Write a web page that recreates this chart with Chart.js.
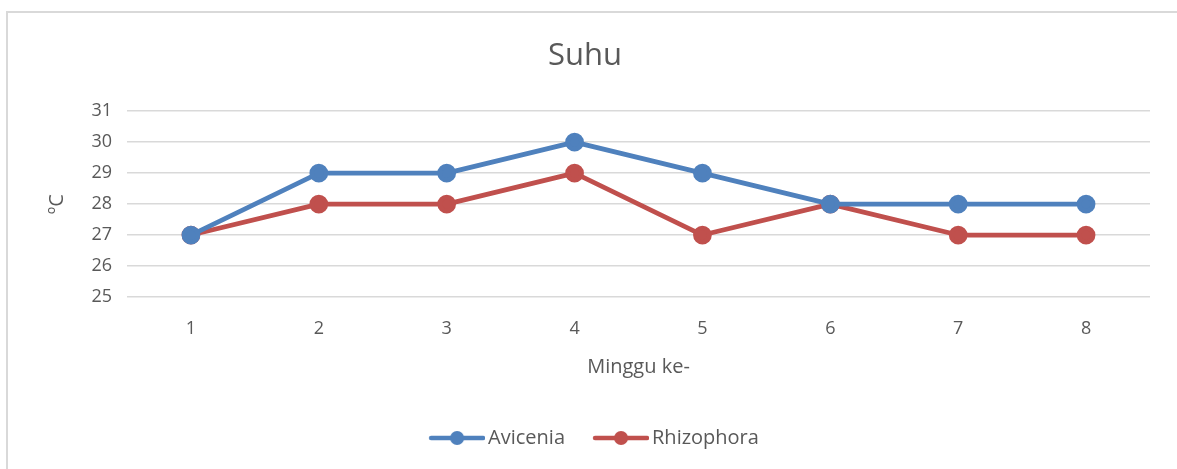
<!DOCTYPE html>
<html>
<head>
<meta charset="utf-8">
<script src="https://cdn.jsdelivr.net/npm/chart.js@4/dist/chart.umd.min.js"></script>
<style>
    html, body { margin: 0; padding: 0; background: #fff; overflow: hidden; }
    #wrap { position: absolute; left: 0; top: 0; width: 1177px; height: 469px; }
</style>
</head>
<body>
<div id="wrap"><canvas id="lineCanvas"></canvas></div>
<script>
// data
var weeks = ["1", "2", "3", "4", "5", "6", "7", "8"];
var avicenia = [27, 29, 29, 30, 29, 28, 28, 28];
var rhizophora = [27, 28, 28, 29, 27, 28, 27, 27];
var yTicks = [25, 26, 27, 28, 29, 30, 31];

var FONT = "'Open Sans', sans-serif";
var TXT = "#595959";

// legend marker: short line with a dot in the middle, pushed to the right edge
function legendMarker(color) {
    var c = document.createElement('canvas');
    c.width = 81;
    c.height = 18;
    var g = c.getContext('2d');
    g.strokeStyle = color;
    g.lineWidth = 4.5;
    g.lineCap = 'round';
    g.beginPath();
    g.moveTo(27, 9);
    g.lineTo(79, 9);
    g.stroke();
    g.fillStyle = color;
    g.beginPath();
    g.arc(53, 9, 7, 0, Math.PI * 2);
    g.fill();
    return c;
}

// outer chart frame (only top and left edges fall inside the picture)
var framePlugin = {
    id: 'frame',
    beforeDraw: function(chart) {
        var c = chart.ctx;
        c.save();
        c.strokeStyle = '#d9d9d9';
        c.lineWidth = 2;
        c.beginPath();
        c.moveTo(7, chart.height);
        c.lineTo(7, 12);
        c.lineTo(chart.width, 12);
        c.stroke();
        c.restore();
    }
};

document.addEventListener('DOMContentLoaded', function() {
    lineChart();
});

function lineChart() {
    var ctx = document.getElementById("lineCanvas").getContext("2d");

    var data = {
        labels: weeks,
        datasets: [
            {
                label: "Avicenia",
                data: avicenia,
                borderColor: "#4f81bd",
                backgroundColor: "#4f81bd",
                borderWidth: 4.75,
                pointRadius: 7,
                pointHoverRadius: 7,
                borderCapStyle: 'round',
                borderJoinStyle: 'round'
            },
            {
                label: "Rhizophora",
                data: rhizophora,
                borderColor: "#c0504d",
                backgroundColor: "#c0504d",
                borderWidth: 4.75,
                pointRadius: 7,
                pointHoverRadius: 7,
                borderCapStyle: 'round',
                borderJoinStyle: 'round'
            }
        ]
    };

    var options = {
        responsive: true,
        maintainAspectRatio: false,
        animation: false,
        layout: { padding: { left: 20, right: 27, top: 0, bottom: 11 } },
        plugins: {
            title: {
                display: true,
                text: "Suhu",
                color: TXT,
                font: { family: FONT, size: 31, weight: 'normal' },
                padding: { top: 38, bottom: 36 }
            },
            legend: {
                position: 'bottom',
                labels: {
                    color: TXT,
                    font: { family: FONT, size: 20 },
                    usePointStyle: true,
                    pointStyleWidth: 67,
                    padding: 10,
                    generateLabels: function(chart) {
                        return chart.data.datasets.map(function(ds, i) {
                            return {
                                text: ds.label,
                                fontColor: TXT,
                                pointStyle: legendMarker(ds.borderColor),
                                hidden: false,
                                datasetIndex: i,
                                lineWidth: 0
                            };
                        });
                    }
                }
            },
            tooltip: { enabled: false }
        },
        scales: {
            x: {
                offset: true,
                grid: { display: false, drawTicks: false },
                border: { display: false },
                ticks: {
                    color: TXT,
                    font: { family: FONT, size: 18 },
                    padding: 21
                },
                title: {
                    display: true,
                    text: "Minggu ke-",
                    color: TXT,
                    font: { family: FONT, size: 20 },
                    padding: { top: 0, bottom: 39 }
                },
                afterFit: function(scale) { scale.height = 121; }
            },
            y: {
                min: yTicks[0],
                max: yTicks[yTicks.length - 1],
                afterBuildTicks: function(scale) {
                    scale.ticks = yTicks.map(function(v) { return { value: v }; });
                },
                grid: { color: "#d9d9d9", lineWidth: 1.5, drawTicks: false },
                border: { display: false },
                ticks: {
                    color: TXT,
                    font: { family: FONT, size: 18 },
                    padding: 15
                },
                title: {
                    display: true,
                    text: "ºC",
                    color: TXT,
                    font: { family: FONT, size: 20 },
                    padding: { top: 25, bottom: 0 }
                },
                afterFit: function(scale) { scale.width = 107; }
            }
        }
    };

    new Chart(ctx, {
        type: 'line',
        data: data,
        options: options,
        plugins: [framePlugin]
    });
}
</script>
</body>
</html>
